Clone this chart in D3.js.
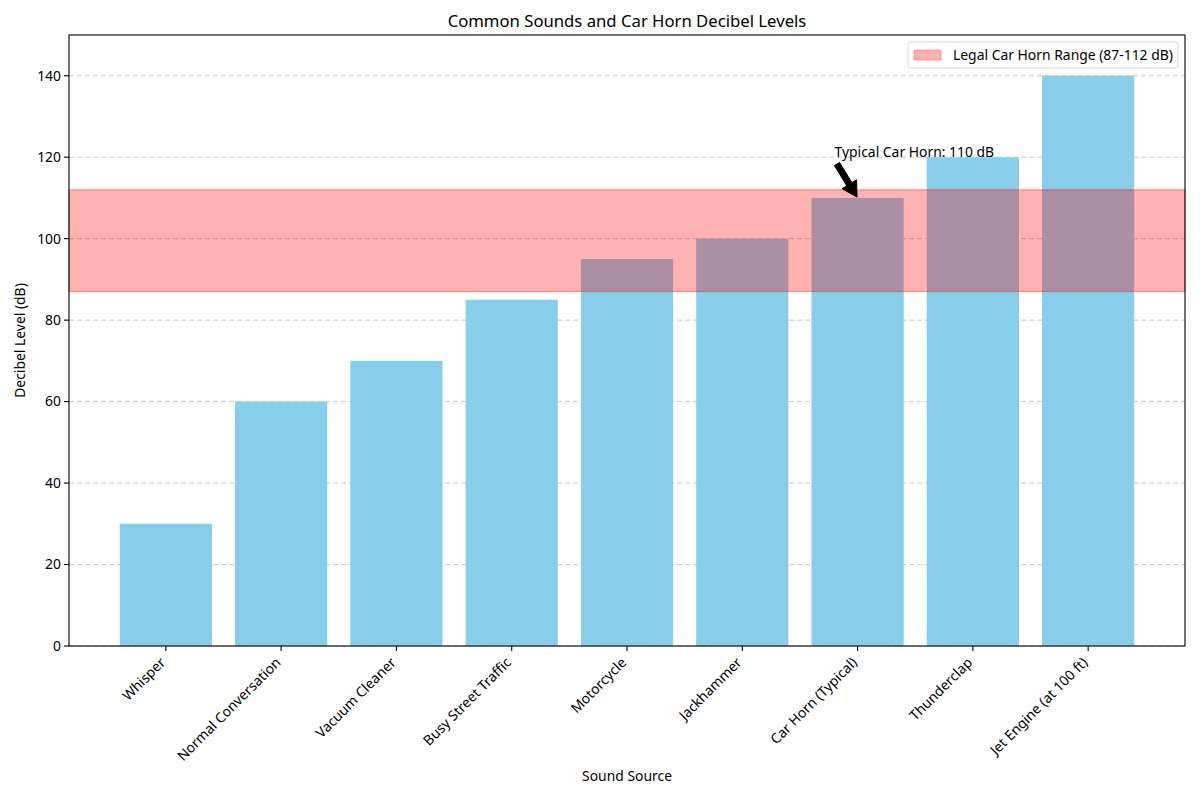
<!DOCTYPE html>
<html>
<head>
<meta charset="utf-8">
<script src="https://cdn.jsdelivr.net/npm/d3@7"></script>
<style>
  body { margin: 0; background: #fff; }
  text { font-family: "Noto Sans", "DejaVu Sans", sans-serif; fill: #000; }
</style>
</head>
<body>
<svg id="chart"></svg>
<script>
const sources = ["Whisper", "Normal Conversation", "Vacuum Cleaner", "Busy Street Traffic",
  "Motorcycle", "Jackhammer", "Car Horn (Typical)", "Thunderclap", "Jet Engine (at 100 ft)"];
const decibels = [30, 60, 70, 85, 95, 100, 110, 120, 140];
const yTicks = [0, 20, 40, 60, 80, 100, 120, 140];
const hornRange = [87, 112];
const hornLabel = "Legal Car Horn Range (87-112 dB)";
const annotation = { text: "Typical Car Horn: 110 dB", index: 6, value: 110, textX: 5.8, textY: 120 };

const width = 1200, height = 800;
const margin = { top: 35, right: 15, bottom: 154, left: 69 };
const plotW = width - margin.left - margin.right;
const plotH = height - margin.top - margin.bottom;

const svg = d3.select("#chart").attr("width", width).attr("height", height);
const g = svg.append("g").attr("transform", `translate(${margin.left},${margin.top})`);

// matplotlib-like continuous x: bars at integer positions, width 0.8, 5% margins
const x = d3.scaleLinear().domain([-0.84, sources.length - 1 + 0.84]).range([0, plotW]);
const y = d3.scaleLinear().domain([0, 150]).range([plotH, 0]);
const barW = x(0.8) - x(0);

// grid
g.selectAll(".grid")
  .data(yTicks)
  .enter()
  .append("line")
  .attr("x1", 0).attr("x2", plotW)
  .attr("y1", (d) => y(d)).attr("y2", (d) => y(d))
  .style("stroke", "#b0b0b0")
  .style("stroke-width", 1)
  .style("stroke-dasharray", "5,3")
  .style("opacity", 0.7);

// bars
g.selectAll(".bar")
  .data(decibels)
  .enter()
  .append("rect")
  .attr("x", (d, i) => x(i) - barW / 2)
  .attr("y", (d) => y(d))
  .attr("width", barW)
  .attr("height", (d) => y(0) - y(d))
  .style("fill", "#87ceeb");

// legal horn band
g.append("rect")
  .attr("x", 0)
  .attr("width", plotW)
  .attr("y", y(hornRange[1]))
  .attr("height", y(hornRange[0]) - y(hornRange[1]))
  .style("fill", "rgba(255,0,0,0.3)")
  .style("stroke", "rgba(255,0,0,0.3)")
  .style("stroke-width", 1.4);

// axes frame
g.append("rect")
  .attr("width", plotW).attr("height", plotH)
  .style("fill", "none").style("stroke", "#000").style("stroke-width", 1.1);

// y axis ticks
const yt = g.selectAll(".ytick").data(yTicks).enter().append("g")
  .attr("transform", (d) => `translate(0,${y(d)})`);
yt.append("line").attr("x1", -5).attr("x2", 0).style("stroke", "#000").style("stroke-width", 1.1);
yt.append("text").attr("x", -8).attr("dy", "0.35em").attr("text-anchor", "end")
  .style("font-size", "13.9px").text((d) => d);

// x axis ticks
const xt = g.selectAll(".xtick").data(sources).enter().append("g")
  .attr("transform", (d, i) => `translate(${x(i)},${plotH})`);
xt.append("line").attr("y1", 0).attr("y2", 5).style("stroke", "#000").style("stroke-width", 1.1);
xt.append("text")
  .attr("transform", "translate(-7,10) rotate(-45)")
  .attr("text-anchor", "end")
  .attr("dy", "0.75em")
  .style("font-size", "13.9px")
  .text((d) => d);

// axis labels & title
svg.append("text").attr("x", margin.left + plotW / 2).attr("y", 781)
  .attr("text-anchor", "middle").style("font-size", "13.9px").text("Sound Source");
svg.append("text")
  .attr("transform", `translate(25,${margin.top + plotH / 2}) rotate(-90)`)
  .attr("text-anchor", "middle").style("font-size", "13.9px").text("Decibel Level (dB)");
svg.append("text").attr("x", margin.left + plotW / 2).attr("y", 27)
  .attr("text-anchor", "middle").style("font-size", "16.7px").text("Common Sounds and Car Horn Decibel Levels");

// annotation
const tx = x(annotation.textX), ty = y(annotation.textY);
g.append("text").attr("x", tx).attr("y", ty).style("font-size", "13.9px").text(annotation.text);
const ax0 = tx + 2, ay0 = ty + 6;
const ax1 = x(annotation.index), ay1 = y(annotation.value);
const len = Math.hypot(ax1 - ax0, ay1 - ay0);
const ux = (ax1 - ax0) / len, uy = (ay1 - ay0) / len;
const px = -uy, py = ux;
const sx = ax0 + ux * 1, sy = ay0 + uy * 1;
const ex = ax1 - ux * 1, ey = ay1 - uy * 1;
const shaftW = 3, headW = 8.5, headL = 15;
const hx = ex - ux * headL, hy = ey - uy * headL;
const pts = [
  [sx + px * shaftW, sy + py * shaftW],
  [hx + px * shaftW, hy + py * shaftW],
  [hx + px * headW, hy + py * headW],
  [ex, ey],
  [hx - px * headW, hy - py * headW],
  [hx - px * shaftW, hy - py * shaftW],
  [sx - px * shaftW, sy - py * shaftW]
];
g.append("polygon").attr("points", pts.map((p) => p.join(",")).join(" "))
  .style("fill", "#000").style("stroke", "#000").style("stroke-width", 1);

// legend
const lg = svg.append("g").attr("transform", "translate(908,42)");
lg.append("rect").attr("width", 270).attr("height", 26).attr("rx", 3)
  .style("fill", "rgba(255,255,255,0.8)").style("stroke", "#d9d9d9");
lg.append("rect").attr("x", 6).attr("y", 8).attr("width", 27).attr("height", 10)
  .style("fill", "rgba(255,0,0,0.3)").style("stroke", "rgba(255,0,0,0.3)");
lg.append("text").attr("x", 45).attr("y", 13).attr("dy", "0.35em")
  .style("font-size", "13.9px").text(hornLabel);
</script>
</body>
</html>
